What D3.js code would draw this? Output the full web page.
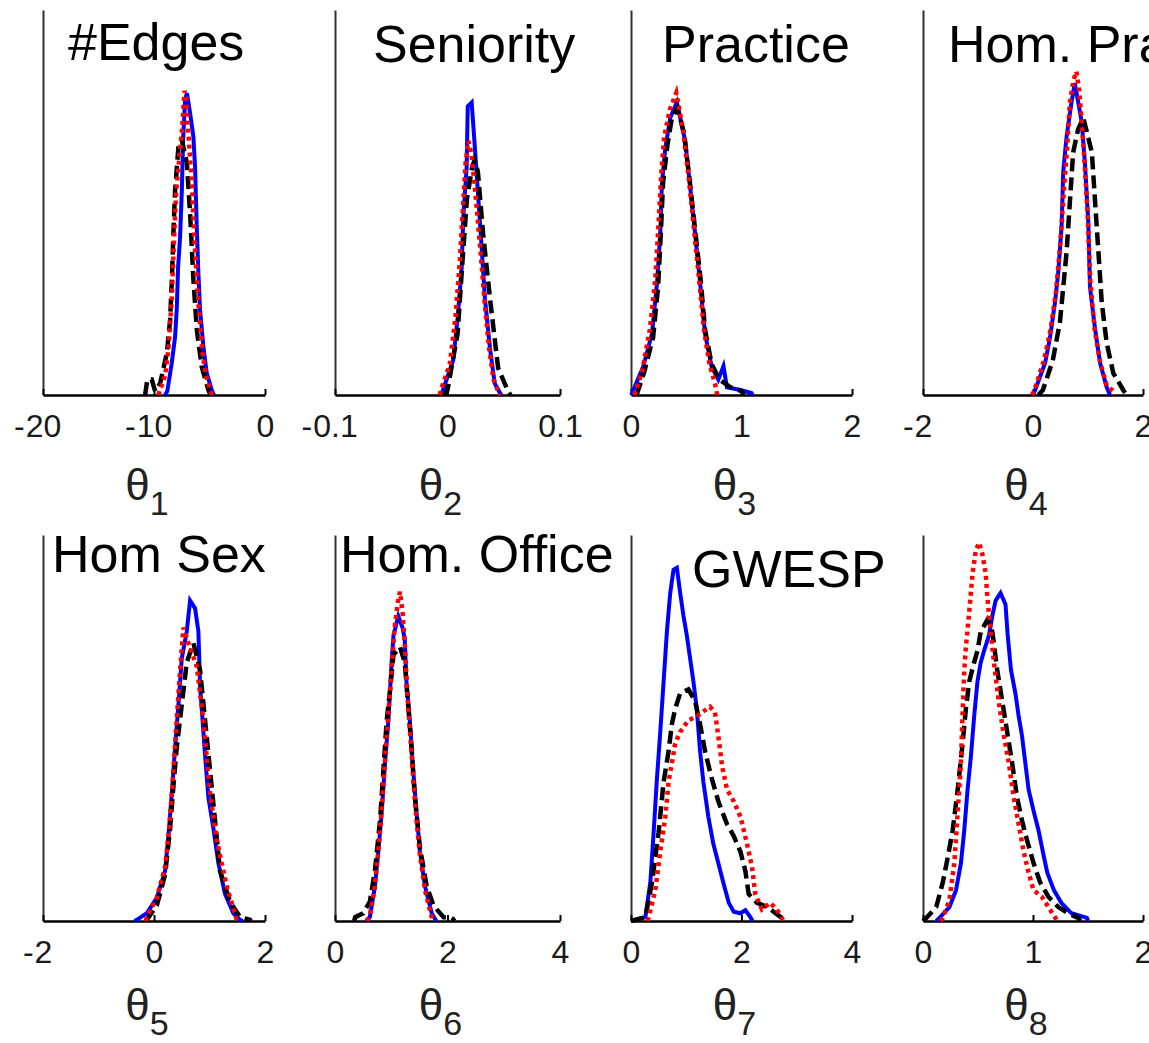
<!DOCTYPE html>
<html>
<head>
<meta charset="utf-8">
<script src="https://cdn.jsdelivr.net/npm/d3@7"></script>
<style>
  body { margin: 0; background: #fff; }
  svg { display: block; }
  text { font-family: "Liberation Sans", Arial, Helvetica, sans-serif; }
</style>
</head>
<body>
<svg id="chart" width="1149" height="1043"></svg>
<script>
// ---- data -------------------------------------------------------------
// Posterior densities of the eight model parameters (heights are relative,
// scaled so that 1 reaches the top of each panel's axis).
const panelTitles = ["#Edges", "Seniority", "Practice", "Hom. Practice",
                     "Hom Sex", "Hom. Office", "GWESP", ""];
const paramIndex = [1, 2, 3, 4, 5, 6, 7, 8];
const xDomains = [[-20, 0], [-0.1, 0.1], [0, 2], [-2, 2],
                  [-2, 2], [0, 4], [0, 4], [0, 2]];
const xTicks = [[-20, -10, 0], [-0.1, 0, 0.1], [0, 1, 2], [-2, 0, 2],
                [-2, 0, 2], [0, 2, 4], [0, 2, 4], [0, 1, 2]];

// solid blue sampler
const blueDensity = [
  [[-9.0,0],[-8.8,0.01],[-8.4,0.083],[-8.1,0.151],[-7.94,0.229],[-7.83,0.332],[-7.65,0.41],[-7.49,0.532],[-7.38,0.662],[-7.2,0.766],[-7.04,0.784],[-6.9,0.76],[-6.75,0.732],[-6.45,0.67],[-6.3,0.592],[-6.14,0.429],[-6.0,0.317],[-5.85,0.221],[-5.55,0.125],[-5.25,0.057],[-4.8,0.013],[-4.6,0]],
  [[-0.006,0],[-0.004,0.013],[0.005,0.09],[0.009,0.2],[0.0126,0.33],[0.014,0.46],[0.017,0.59],[0.018,0.75],[0.0215,0.76],[0.0244,0.64],[0.0274,0.51],[0.0304,0.38],[0.0333,0.25],[0.0378,0.12],[0.042,0.03],[0.0467,0.005],[0.048,0]],
  [[0,0],[0.01,0.005],[0.11,0.073],[0.19,0.16],[0.235,0.29],[0.265,0.42],[0.28,0.55],[0.31,0.64],[0.355,0.72],[0.415,0.76],[0.49,0.66],[0.536,0.54],[0.58,0.42],[0.626,0.29],[0.67,0.16],[0.73,0.073],[0.79,0.04],[0.837,0.075],[0.868,0.02],[0.99,0.013],[1.09,0.005],[1.1,0]],
  [[0.0,0],[0.04,0.013],[0.22,0.083],[0.31,0.15],[0.40,0.24],[0.46,0.32],[0.52,0.44],[0.55,0.58],[0.61,0.67],[0.70,0.76],[0.76,0.81],[0.885,0.71],[0.945,0.60],[1.005,0.45],[1.036,0.28],[1.13,0.17],[1.22,0.083],[1.34,0.02],[1.4,0]],
  [[-0.35,0],[-0.31,0.003],[-0.13,0.02],[0.05,0.06],[0.20,0.13],[0.26,0.22],[0.32,0.33],[0.38,0.45],[0.44,0.56],[0.50,0.68],[0.59,0.75],[0.65,0.83],[0.74,0.81],[0.80,0.75],[0.83,0.61],[0.92,0.43],[0.98,0.32],[1.07,0.24],[1.16,0.15],[1.28,0.07],[1.43,0.02],[1.55,0.003],[1.6,0]],
  [[0.55,0],[0.62,0.01],[0.71,0.09],[0.77,0.18],[0.83,0.28],[0.89,0.41],[0.95,0.52],[1.01,0.68],[1.04,0.74],[1.125,0.79],[1.2,0.76],[1.24,0.73],[1.27,0.62],[1.33,0.52],[1.39,0.39],[1.45,0.28],[1.51,0.18],[1.60,0.09],[1.72,0.02],[1.78,0.005],[1.8,0]],
  [[0,0],[0.26,0.01],[0.35,0.10],[0.41,0.23],[0.47,0.37],[0.53,0.49],[0.59,0.62],[0.65,0.75],[0.71,0.85],[0.77,0.91],[0.83,0.915],[0.89,0.85],[0.95,0.79],[1.01,0.74],[1.07,0.68],[1.13,0.62],[1.19,0.55],[1.25,0.44],[1.31,0.36],[1.40,0.27],[1.49,0.20],[1.58,0.15],[1.67,0.10],[1.77,0.047],[1.86,0.024],[1.98,0.02],[2.07,0.028],[2.16,0.01],[2.2,0]],
  [[0.12,0],[0.15,0.008],[0.24,0.036],[0.30,0.08],[0.345,0.15],[0.375,0.235],[0.405,0.34],[0.435,0.425],[0.465,0.53],[0.495,0.62],[0.525,0.67],[0.555,0.70],[0.60,0.74],[0.63,0.79],[0.66,0.83],[0.705,0.85],[0.75,0.82],[0.77,0.74],[0.80,0.65],[0.84,0.59],[0.87,0.53],[0.90,0.48],[0.93,0.41],[0.96,0.34],[1.01,0.28],[1.05,0.235],[1.10,0.165],[1.13,0.125],[1.19,0.08],[1.26,0.046],[1.35,0.02],[1.49,0.008],[1.5,0]]
];

// dashed black sampler
const blackDensity = [
  [[-10.8,0],[-10.6,0.04],[-10.2,0.04],[-9.9,0.01],[-9.45,0.03],[-8.84,0.109],[-8.55,0.195],[-8.39,0.30],[-8.25,0.421],[-8.1,0.532],[-7.8,0.644],[-7.49,0.662],[-7.04,0.603],[-6.75,0.473],[-6.45,0.299],[-6.14,0.169],[-5.7,0.073],[-5.1,0.013],[-4.9,0]],
  [[-0.004,0],[0.0,0.013],[0.009,0.16],[0.0129,0.33],[0.0173,0.51],[0.0218,0.59],[0.024,0.61],[0.027,0.58],[0.0316,0.42],[0.0378,0.25],[0.045,0.07],[0.0538,0.01],[0.056,0]],
  [[0.05,0],[0.12,0.06],[0.2,0.15],[0.245,0.28],[0.27,0.42],[0.29,0.55],[0.33,0.65],[0.37,0.72],[0.42,0.745],[0.48,0.68],[0.53,0.56],[0.58,0.43],[0.63,0.30],[0.67,0.17],[0.73,0.08],[0.8,0.04],[0.85,0.03],[0.9,0.02],[1.0,0.01],[1.02,0]],
  [[0.1,0],[0.18,0.013],[0.36,0.09],[0.49,0.19],[0.61,0.37],[0.67,0.50],[0.73,0.63],[0.82,0.69],[0.915,0.72],[1.07,0.63],[1.13,0.50],[1.19,0.37],[1.25,0.24],[1.34,0.135],[1.46,0.057],[1.64,0.013],[1.7,0]],
  [[-0.15,0],[-0.13,0.003],[0.05,0.04],[0.20,0.12],[0.29,0.24],[0.35,0.35],[0.41,0.45],[0.50,0.56],[0.59,0.67],[0.71,0.72],[0.83,0.65],[0.92,0.52],[1.01,0.39],[1.10,0.26],[1.19,0.13],[1.37,0.05],[1.55,0.01],[1.73,0.003],[1.75,0]],
  [[0.34,0],[0.36,0.01],[0.5,0.02],[0.62,0.05],[0.71,0.13],[0.8,0.26],[0.86,0.39],[0.92,0.52],[0.98,0.6],[1.04,0.69],[1.156,0.71],[1.24,0.67],[1.30,0.56],[1.36,0.45],[1.42,0.32],[1.51,0.19],[1.63,0.09],[1.75,0.04],[1.93,0.01],[2.05,0.01],[2.1,0.005],[2.12,0]],
  [[0,0],[0.26,0.01],[0.38,0.10],[0.50,0.23],[0.59,0.36],[0.68,0.44],[0.74,0.51],[0.80,0.55],[0.89,0.59],[1.04,0.60],[1.16,0.57],[1.25,0.51],[1.34,0.44],[1.46,0.37],[1.58,0.31],[1.74,0.25],[1.86,0.22],[1.98,0.18],[2.07,0.13],[2.13,0.07],[2.28,0.047],[2.46,0.037],[2.58,0.024],[2.73,0.008],[2.76,0]],
  [[0,0],[0.03,0.008],[0.12,0.036],[0.18,0.10],[0.225,0.165],[0.27,0.235],[0.315,0.34],[0.36,0.46],[0.39,0.55],[0.42,0.62],[0.465,0.67],[0.495,0.70],[0.525,0.75],[0.585,0.78],[0.63,0.75],[0.675,0.65],[0.72,0.57],[0.765,0.49],[0.81,0.41],[0.855,0.32],[0.90,0.26],[0.945,0.21],[1.005,0.15],[1.065,0.10],[1.14,0.063],[1.23,0.036],[1.32,0.02],[1.41,0.008],[1.43,0]]
];

// dotted red sampler
const redDensity = [
  [[-9.6,0],[-9.5,0.01],[-9.0,0.05],[-8.7,0.12],[-8.4,0.25],[-8.2,0.40],[-8.0,0.53],[-7.7,0.62],[-7.45,0.70],[-7.25,0.79],[-7.1,0.77],[-6.9,0.68],[-6.6,0.55],[-6.35,0.40],[-6.1,0.28],[-5.85,0.18],[-5.6,0.10],[-5.3,0.05],[-4.9,0.01],[-4.8,0]],
  [[-0.007,0],[-0.005,0.02],[0.002,0.08],[0.007,0.2],[0.011,0.35],[0.014,0.5],[0.016,0.6],[0.0185,0.66],[0.021,0.63],[0.024,0.55],[0.027,0.45],[0.03,0.35],[0.033,0.24],[0.037,0.12],[0.041,0.04],[0.045,0.01],[0.047,0]],
  [[0.03,0],[0.1,0.06],[0.17,0.17],[0.22,0.3],[0.25,0.45],[0.275,0.58],[0.3,0.67],[0.35,0.74],[0.41,0.785],[0.47,0.69],[0.52,0.57],[0.57,0.43],[0.62,0.29],[0.66,0.17],[0.71,0.08],[0.76,0.03],[0.78,0]],
  [[-0.02,0],[0.02,0.01],[0.2,0.09],[0.32,0.17],[0.42,0.27],[0.5,0.4],[0.56,0.53],[0.62,0.64],[0.67,0.76],[0.74,0.82],[0.79,0.84],[0.84,0.79],[0.88,0.72],[0.94,0.6],[1.0,0.45],[1.04,0.3],[1.12,0.17],[1.22,0.085],[1.34,0.025],[1.46,0.01],[1.48,0]],
  [[-0.15,0],[-0.13,0.01],[0.05,0.06],[0.2,0.14],[0.28,0.25],[0.34,0.37],[0.40,0.5],[0.46,0.63],[0.53,0.76],[0.62,0.72],[0.77,0.66],[0.89,0.52],[1.01,0.33],[1.13,0.21],[1.31,0.09],[1.49,0.003],[1.5,0]],
  [[0.57,0],[0.62,0.015],[0.7,0.08],[0.77,0.18],[0.83,0.29],[0.89,0.42],[0.95,0.54],[1.01,0.66],[1.06,0.76],[1.12,0.83],[1.156,0.853],[1.2,0.8],[1.24,0.72],[1.28,0.6],[1.33,0.5],[1.39,0.37],[1.45,0.26],[1.51,0.17],[1.6,0.08],[1.7,0.02],[1.74,0]],
  [[0.3,0],[0.32,0.01],[0.44,0.08],[0.53,0.18],[0.62,0.27],[0.68,0.36],[0.74,0.41],[0.80,0.46],[0.89,0.49],[1.04,0.52],[1.19,0.53],[1.28,0.54],[1.43,0.555],[1.52,0.54],[1.58,0.48],[1.65,0.40],[1.74,0.34],[1.86,0.31],[1.98,0.27],[2.10,0.20],[2.19,0.14],[2.25,0.07],[2.37,0.03],[2.52,0.047],[2.64,0.03],[2.73,0.008],[2.76,0]],
  [[0.16,0],[0.18,0.008],[0.24,0.055],[0.285,0.15],[0.315,0.28],[0.345,0.41],[0.36,0.54],[0.375,0.65],[0.39,0.71],[0.42,0.80],[0.45,0.90],[0.48,0.96],[0.51,0.98],[0.54,0.95],[0.57,0.90],[0.585,0.84],[0.615,0.75],[0.645,0.67],[0.69,0.565],[0.735,0.48],[0.78,0.41],[0.825,0.32],[0.87,0.25],[0.915,0.18],[0.96,0.125],[1.005,0.08],[1.08,0.063],[1.14,0.036],[1.20,0.01],[1.22,0]]
];

// ---- layout -----------------------------------------------------------
const colLeft = [43, 335, 631, 923];
const colWidth = [222, 225, 221, 220];
const rowTop = [10, 535];
const rowBottom = [395, 921];
const thetaOffset = [105, 99];               // axis line -> θ baseline
const titleOffset = [[25, 50], [38, 52], [31, 52], [25, 52],
                     [9, 37], [5, 37], [61, 52], [0, 0]]; // from panel top-left

const seriesStyles = [
  { data: blueDensity,  color: "#0000ff", width: 4,   dash: null },
  { data: blackDensity, color: "#000000", width: 4.5, dash: "13,6" },
  { data: redDensity,   color: "#ff0000", width: 4.5, dash: "4,4" }
];

// ---- drawing ----------------------------------------------------------
const svg = d3.select("#chart");
svg.append("rect").attr("width", 1149).attr("height", 1043).attr("fill", "#fff");

panelTitles.forEach((title, i) => {
  const row = Math.floor(i / 4), col = i % 4;
  const left = colLeft[col], width = colWidth[col];
  const top = rowTop[row], bottom = rowBottom[row];

  const x = d3.scaleLinear().domain(xDomains[i]).range([left, left + width]);
  const y = d3.scaleLinear().domain([0, 1]).range([bottom, top]);

  const g = svg.append("g");

  // left axis: bare line, no ticks
  const yAxis = g.append("g")
    .attr("transform", `translate(${left},0)`)
    .call(d3.axisLeft(y).tickValues([]).tickSizeOuter(0));
  yAxis.select(".domain").attr("stroke", "#333").attr("stroke-width", 2);

  // bottom axis with inward ticks
  const xAxis = g.append("g")
    .attr("transform", `translate(0,${bottom})`)
    .call(d3.axisBottom(x).tickValues(xTicks[i])
      .tickSizeInner(-6).tickSizeOuter(0)
      .tickFormat(d => String(Math.abs(d))));
  xAxis.select(".domain").attr("stroke", "#000").attr("stroke-width", 2.5);
  xAxis.selectAll(".tick line").attr("stroke", "#000").attr("stroke-width", 2);
  xAxis.selectAll(".tick text")
    .attr("y", 42).attr("dy", null)
    .attr("fill", "#1a1a1a")
    .style("font-size", "32px")
    .style("font-family", '"Liberation Sans", Arial, sans-serif');
  // negative labels: digits stay centred on the tick, minus hangs to the left
  xAxis.selectAll(".tick").each(function (d) {
    if (d < 0) {
      const t = d3.select(this).select("text");
      const w = t.node().getComputedTextLength();
      d3.select(this).append("text")
        .attr("x", -w / 2 - 1).attr("y", 42)
        .attr("text-anchor", "end")
        .attr("fill", "#1a1a1a")
        .style("font-size", "32px")
        .text("-");
    }
  });

  // density curves: blue, then black dashed, then red dotted on top
  const line = d3.line().x(d => x(d[0])).y(d => y(d[1]));
  seriesStyles.forEach(s => {
    g.append("path")
      .datum(s.data[i])
      .attr("d", line)
      .attr("fill", "none")
      .attr("stroke", s.color)
      .attr("stroke-width", s.width)
      .attr("stroke-linejoin", "miter")
      .attr("stroke-dasharray", s.dash);
  });

  // panel title
  if (title) {
    g.append("text")
      .attr("x", left + titleOffset[i][0])
      .attr("y", top + titleOffset[i][1])
      .attr("fill", "#000")
      .style("font-size", "52px")
      .text(title);
  }

  // parameter label θ_i
  const lab = g.append("text")
    .attr("x", left + width / 2 - 7)
    .attr("y", bottom + thetaOffset[row])
    .attr("text-anchor", "middle")
    .attr("fill", "#222");
  lab.append("tspan").style("font-size", "44px").text("θ");
  lab.append("tspan").attr("dy", 15).style("font-size", "34px").text(paramIndex[i]);
});
</script>
</body>
</html>
